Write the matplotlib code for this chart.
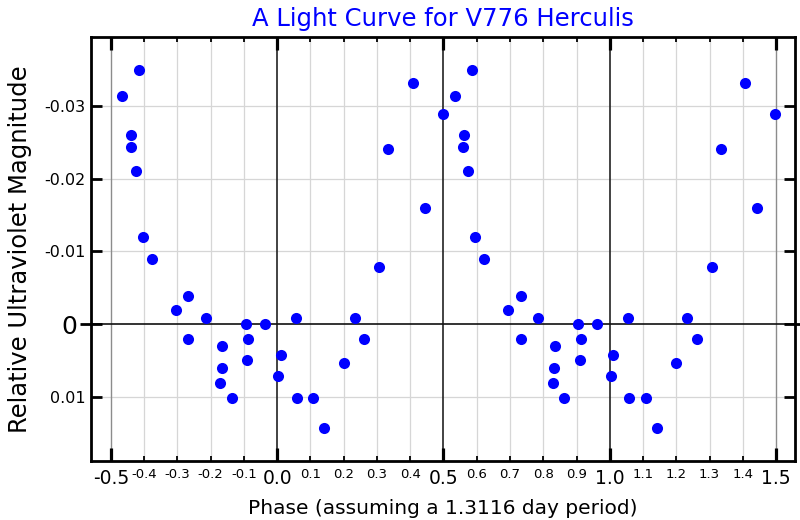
import numpy as np
import matplotlib
matplotlib.use('Agg')
import matplotlib.pyplot as plt

# folded phase and relative UV magnitude (one cycle, plotted twice)
phase = [-0.466, -0.441, -0.439, -0.425, -0.415, -0.405, -0.377, -0.305, -0.268,
         -0.267, -0.215, -0.171, -0.167, -0.165, -0.137, -0.095, -0.091, -0.088,
         -0.038, 0.003, 0.010, 0.055, 0.059, 0.109, 0.142, 0.200, 0.233, 0.261,
         0.307, 0.334, 0.407, 0.444, 0.497]
magnitude = [-0.0313, -0.0243, -0.0260, -0.0211, -0.0350, -0.0120, -0.0090, -0.0019,
             -0.0038, 0.0021, -0.0009, 0.0081, 0.0060, 0.0030, 0.0102, 0.0000, 0.0050,
             0.0020, 0.0000, 0.0072, 0.0042, -0.0008, 0.0102, 0.0102, 0.0143, 0.0053,
             -0.0009, 0.0021, -0.0079, -0.0241, -0.0332, -0.0160, -0.0289]
cycles = [0, 1]

x_major = [-0.5, 0.0, 0.5, 1.0, 1.5]
x_major_labels = ['-0.5', '0.0', '0.5', '1.0', '1.5']
x_minor = [-0.4, -0.3, -0.2, -0.1, 0.1, 0.2, 0.3, 0.4, 0.6, 0.7, 0.8, 0.9,
           1.1, 1.2, 1.3, 1.4]
x_minor_labels = ['-0.4', '-0.3', '-0.2', '-0.1', '0.1', '0.2', '0.3', '0.4',
                  '0.6', '0.7', '0.8', '0.9', '1.1', '1.2', '1.3', '1.4']
y_major = [0.0]
y_major_labels = ['0']
y_minor = [-0.03, -0.02, -0.01, 0.01]
y_minor_labels = ['-0.03', '-0.02', '-0.01', '0.01']

fig = plt.figure(figsize=(8, 5.2), dpi=100)
ax = fig.add_axes([91/800, 1 - 461/520, 704/800, 424/520])

xs = np.concatenate([np.array(phase) + c for c in cycles])
ys = np.concatenate([magnitude for c in cycles])

# grid
for xv in x_minor:
    ax.axvline(xv, color='#d6d6d6', lw=0.9, zorder=0)
for yv in y_minor:
    ax.axhline(yv, color='#d6d6d6', lw=0.9, zorder=0)
for xv in x_major:
    if xv in (0.0, 0.5, 1.0):
        ax.axvline(xv, color='#222222', lw=1.2, zorder=1)
    else:
        ax.axvline(xv, color='#8c8c8c', lw=1.0, zorder=1)
ax.axhline(0, color='#111111', lw=1.2, zorder=1)

ax.plot(xs, ys, 'o', color='#0000ff', markersize=8, markeredgewidth=0, zorder=3)

ax.set_xlim(-0.56, 1.557)
ax.set_ylim(0.01882, -0.03948)

ax.set_xticks(x_major)
ax.set_xticklabels(x_major_labels, fontsize=13.5)
ax.set_xticks(x_minor, minor=True)
ax.set_xticklabels(x_minor_labels, minor=True, fontsize=9.5)
ax.set_yticks(y_major)
ax.set_yticklabels(y_major_labels, fontsize=18)
ax.set_yticks(y_minor, minor=True)
ax.set_yticklabels(y_minor_labels, minor=True, fontsize=11.5)

ax.tick_params(axis='x', which='major', direction='in', length=9.4, width=2.3,
               top=True, pad=6)
ax.tick_params(axis='x', which='minor', direction='in', length=3.6, width=1.3,
               top=True, pad=5)
ax.tick_params(axis='y', which='major', direction='inout', length=16, width=2.0,
               right=True, pad=2)
ax.tick_params(axis='y', which='minor', direction='in', length=8, width=2.0,
               right=True, pad=4)

for s in ax.spines.values():
    s.set_linewidth(2.0)

ax.set_title('A Light Curve for V776 Herculis', color='#0000ff', fontsize=17.5, pad=8)
ax.set_xlabel('Phase (assuming a 1.3116 day period)', fontsize=14.5, labelpad=8)
ax.set_ylabel('Relative Ultraviolet Magnitude', fontsize=17.5, labelpad=9)

fig.savefig('out.png', dpi=100)
